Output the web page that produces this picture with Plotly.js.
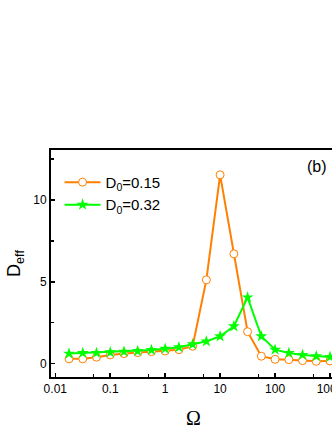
<!DOCTYPE html>
<html>
<head>
<meta charset="utf-8">
<script src="https://cdn.plot.ly/plotly-3.0.1.min.js"></script>
<style>
html,body{margin:0;padding:0;overflow:hidden;background:#fff;width:332px;height:430px;}
#chart{width:400px;height:430px;}
</style>
</head>
<body>
<div id="chart"></div>
<script>
const omega = [0.0178, 0.0316, 0.0562, 0.1, 0.178, 0.316, 0.562, 1, 1.78, 3.16, 5.62, 10, 17.8, 31.6, 56.2, 100, 178, 316, 562, 1000];
const deffD015 = [0.29, 0.29, 0.39, 0.53, 0.61, 0.67, 0.73, 0.77, 0.85, 1.06, 5.12, 11.54, 6.71, 1.95, 0.45, 0.26, 0.24, 0.18, 0.14, 0.16];
const deffD032 = [0.61, 0.65, 0.65, 0.69, 0.73, 0.77, 0.83, 0.91, 1.0, 1.18, 1.36, 1.67, 2.28, 4.05, 1.67, 0.85, 0.65, 0.53, 0.45, 0.41];
const seriesNames = ['D<sub>0</sub>=0.15', 'D<sub>0</sub>=0.32'];
const xTickVals = [0.01, 0.1, 1, 10, 100, 1000];
const xTickText = ['0.01', '0.1', '1', '10', '100', '1000'];
const yTickVals = [0, 5, 10];

const orange = '#FF8000';
const green = '#00FF00';

const traces = [
  {
    x: omega, y: deffD015, name: seriesNames[0], type: 'scatter', mode: 'lines+markers',
    line: {color: orange, width: 2},
    marker: {symbol: 'circle', size: 8, color: '#ffffff', line: {color: orange, width: 1}}
  },
  {
    x: omega, y: deffD032, name: seriesNames[1], type: 'scatter', mode: 'lines+markers',
    line: {color: green, width: 2},
    marker: {symbol: 'star', size: 9, color: green, line: {width: 0}}
  }
];

const layout = {
  width: 400, height: 430,
  margin: {l: 51, r: 64, t: 150, b: 53},
  paper_bgcolor: '#fff', plot_bgcolor: '#fff',
  font: {family: 'Liberation Sans, Arial, sans-serif', color: '#000', size: 12},
  showlegend: true,
  legend: {x: 0.03, y: 0.93, xanchor: 'left', yanchor: 'top', bgcolor: 'rgba(0,0,0,0)',
           font: {size: 15}, tracegroupgap: 0, itemwidth: 36},
  xaxis: {
    type: 'log', range: [-2.078, 3.109],
    tickvals: xTickVals, ticktext: xTickText,
    ticks: 'inside', ticklen: 4, tickwidth: 1.5, tickcolor: '#000',
    minor: {tickvals: [0.05, 0.5, 5, 50, 500], ticks: 'inside', ticklen: 3, tickwidth: 1.5, tickcolor: '#000'},
    showline: true, linewidth: 2, linecolor: '#000', mirror: true,
    showgrid: false, zeroline: false,
    tickfont: {size: 12},
    title: {text: 'Ω', font: {size: 20, family: 'Liberation Serif, Times New Roman, serif'}, standoff: 16}
  },
  yaxis: {
    range: [-0.82, 13.06],
    tickvals: yTickVals,
    ticks: 'inside', ticklen: 4, tickwidth: 1.5, tickcolor: '#000',
    minor: {tickvals: [2.5, 7.5, 12.5], ticks: 'inside', ticklen: 3, tickwidth: 1.5, tickcolor: '#000'},
    showline: true, linewidth: 2, linecolor: '#000', mirror: true,
    showgrid: false, zeroline: false,
    tickfont: {size: 12},
    title: {text: 'D<sub>eff</sub>', font: {size: 18}, standoff: 8}
  },
  annotations: [
    {text: '(b)', xref: 'paper', yref: 'paper', x: 0.933, y: 0.928, xanchor: 'center', yanchor: 'middle',
     showarrow: false, font: {size: 16}}
  ]
};

Plotly.newPlot('chart', traces, layout, {displayModeBar: false, staticPlot: true});
</script>
</body>
</html>
